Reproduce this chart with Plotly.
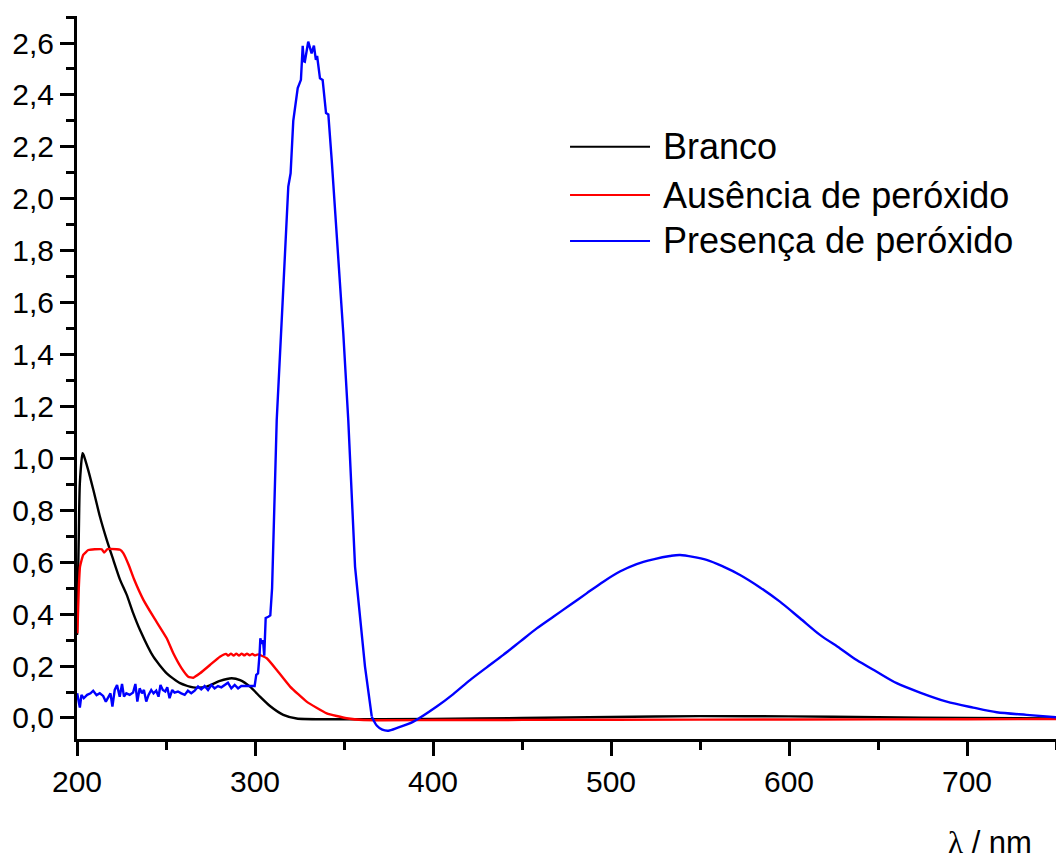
import plotly.graph_objects as go

# UV-Vis spectra: wavelength (nm) and absorbance
wl_branco = [200.0, 201.0, 201.6, 203.1, 203.6, 206.3, 209.2, 212.9, 216.7, 220.4,
             224.2, 227.9, 231.5, 235.4, 242.9, 250.4, 257.9, 265.3, 272.8, 280.3,
             286.9, 291.6, 297.2, 302.8, 308.4, 315.9, 323.4, 340.0, 400.0, 450.0,
             500.0, 550.0, 600.0, 650.0, 700.0, 750.0]
abs_branco = [0.32, 0.70, 0.904, 1.02, 1.015, 0.955, 0.878, 0.775, 0.686, 0.609,
              0.532, 0.475, 0.405, 0.339, 0.236, 0.172, 0.134, 0.118, 0.121, 0.143,
              0.153, 0.146, 0.121, 0.082, 0.046, 0.012, -0.002, -0.005, -0.004, 0.000,
              0.004, 0.007, 0.006, 0.003, 0.000, -0.002]

wl_ausencia = [200.2, 201.0, 201.7, 203.5, 206.4, 210.0, 213.9, 215.2, 217.1, 222.3,
               224.2, 226.0, 229.0, 232.0, 237.3, 242.9, 250.4, 254.1, 258.8, 262.5,
               265.3, 269.1, 274.7, 280.3, 283.7, 285.0, 286.5, 288.0, 289.5, 291.0,
               292.5, 294.0, 295.5, 297.0, 298.5, 300.0, 301.8, 306.6, 312.2, 319.7,
               329.0, 340.3, 351.5, 360.9, 400.0, 500.0, 600.0, 700.0, 750.0]
abs_ausencia = [0.326, 0.50, 0.583, 0.628, 0.647, 0.650, 0.650, 0.637, 0.650, 0.650,
                0.648, 0.635, 0.59, 0.535, 0.455, 0.39, 0.307, 0.249, 0.191, 0.159,
                0.155, 0.172, 0.204, 0.236, 0.247, 0.240, 0.248, 0.240, 0.248, 0.240,
                0.248, 0.241, 0.248, 0.241, 0.247, 0.241, 0.245, 0.23, 0.185, 0.121,
                0.063, 0.018, -0.001, -0.008, -0.008, -0.007, -0.006, -0.005, -0.004]

wl_presenca = [200.1, 201.6, 202.5, 203.8, 205.7, 207.6, 209.1, 211.0, 212.8, 214.7,
               216.2, 217.5, 218.8, 219.9, 221.2, 222.5, 224.0, 225.3, 226.4, 227.7,
               229.6, 231.5, 232.8, 233.9, 235.2, 236.5, 237.6, 238.9, 240.2, 241.7,
               243.0, 244.5, 245.8, 246.9, 248.2, 249.6, 250.7, 252.0, 253.5, 254.8,
               256.7, 258.6, 260.5, 262.3, 264.2, 266.1, 268.0, 269.8, 271.7, 273.6,
               275.5, 277.3, 279.2, 281.1, 283.0, 284.8, 286.7, 288.6, 290.5, 292.3,
               295.1, 297.9, 299.8, 300.7, 301.7, 302.6, 303.0, 303.8, 304.5, 305.2,
               306.0, 307.5, 308.6, 309.6, 312.2, 315.5, 318.7, 320.0, 321.5, 324.0,
               325.8, 326.8, 327.4, 328.0, 329.9, 331.8, 333.1, 334.2, 334.9, 336.5,
               338.0, 339.9, 341.2, 343.1, 345.9, 349.6, 352.4, 356.2, 361.8, 365.6,
               368.5, 371.5, 374.9, 380.0, 389.0, 402.1, 411.4, 420.8, 430.2, 439.5,
               448.9, 458.3, 467.6, 477.0, 486.3, 495.7, 505.0, 514.4, 523.8, 533.1,
               538.8, 553.7, 563.1, 572.5, 583.7, 594.9, 606.2, 617.4, 628.7, 638.0,
               649.3, 660.5, 673.6, 688.6, 703.5, 716.7, 733.5, 750.0]
abs_presenca = [0.095, 0.040, 0.089, 0.076, 0.089, 0.095, 0.105, 0.088, 0.095, 0.085,
                0.063, 0.082, 0.095, 0.044, 0.108, 0.127, 0.082, 0.131, 0.082, 0.095,
                0.089, 0.098, 0.131, 0.063, 0.114, 0.095, 0.108, 0.063, 0.089, 0.108,
                0.095, 0.105, 0.082, 0.127, 0.108, 0.102, 0.118, 0.076, 0.108, 0.098,
                0.102, 0.095, 0.089, 0.105, 0.095, 0.105, 0.121, 0.110, 0.123, 0.108,
                0.127, 0.114, 0.123, 0.118, 0.127, 0.136, 0.114, 0.127, 0.114, 0.123,
                0.123, 0.123, 0.123, 0.166, 0.172, 0.250, 0.307, 0.285, 0.300, 0.240,
                0.385, 0.390, 0.395, 0.50, 1.148, 1.60, 2.047, 2.098, 2.30, 2.426,
                2.458, 2.589, 2.53, 2.528, 2.605, 2.56, 2.59, 2.535, 2.55, 2.464,
                2.458, 2.33, 2.325, 2.149, 1.867, 1.482, 1.148, 0.583, 0.198, 0.005,
                -0.030, -0.045, -0.049, -0.038, -0.014, 0.044, 0.092, 0.146, 0.195, 0.243,
                0.294, 0.345, 0.39, 0.435, 0.48, 0.525, 0.564, 0.593, 0.611, 0.624,
                0.628, 0.609, 0.583, 0.551, 0.503, 0.448, 0.384, 0.320, 0.268, 0.223,
                0.178, 0.134, 0.098, 0.063, 0.040, 0.022, 0.012, 0.003]

series_names = ["Branco", "Ausência de peróxido", "Presença de peróxido"]
series_colors = ["#000000", "#FF0000", "#0000FF"]

FONT = "Liberation Sans, Arial, sans-serif"
LINE_W = 2.4

fig = go.Figure()
fig.add_trace(go.Scatter(x=wl_branco, y=abs_branco, mode="lines", name=series_names[0],
                         line=dict(color=series_colors[0], width=LINE_W, shape="spline",
                                   smoothing=0.6), showlegend=False))
fig.add_trace(go.Scatter(x=wl_ausencia, y=abs_ausencia, mode="lines", name=series_names[1],
                         line=dict(color=series_colors[1], width=LINE_W, shape="spline",
                                   smoothing=0.4), showlegend=False))

# the noisy UV region is drawn point-to-point, the broad visible band smoothed
split = wl_presenca.index(365.6)
fig.add_trace(go.Scatter(x=wl_presenca[:split + 1], y=abs_presenca[:split + 1], mode="lines",
                         name=series_names[2], line=dict(color=series_colors[2], width=LINE_W),
                         showlegend=False))
fig.add_trace(go.Scatter(x=wl_presenca[split:], y=abs_presenca[split:], mode="lines",
                         name=series_names[2], line=dict(color=series_colors[2], width=LINE_W,
                                                         shape="spline", smoothing=0.8),
                         showlegend=False))

# hand-built legend: long line samples followed by labels
legend_y = [0.819, 0.7524, 0.6888]
shapes = []
annotations = []
for name, col, yy in zip(series_names, series_colors, legend_y):
    shapes.append(dict(type="line", xref="paper", yref="paper",
                       x0=0.5036, x1=0.5853, y0=yy, y1=yy,
                       line=dict(color=col, width=2)))
    annotations.append(dict(xref="paper", yref="paper", x=0.5965, y=yy,
                            text=name, showarrow=False, xanchor="left",
                            yanchor="middle", font=dict(family=FONT, size=36, color="black")))

annotations.append(dict(xref="paper", yref="paper", x=0.9326, y=-0.1438,
                        text="<span style='font-family:Liberation Serif'>λ</span> / nm",
                        showarrow=False, xanchor="center", yanchor="middle",
                        font=dict(family=FONT, size=31, color="black")))

axis_common = dict(showgrid=False, zeroline=False, showline=True, linecolor="black",
                   linewidth=3, ticks="outside", ticklen=14, tickwidth=3,
                   tickcolor="black", tickfont=dict(family=FONT, size=30, color="black"),
                   mirror=False)

fig.update_layout(
    width=1056, height=863,
    margin=dict(l=77, r=0, t=16, b=124),
    paper_bgcolor="white", plot_bgcolor="white",
    separators=",.",
    shapes=shapes, annotations=annotations,
    xaxis=dict(range=[200, 750], dtick=100, tick0=200, tickformat="d",
               minor=dict(dtick=50, ticklen=8, tickwidth=3, tickcolor="black", ticks="outside"),
               **axis_common),
    yaxis=dict(range=[-0.081, 2.704], dtick=0.2, tick0=0, tickformat=".1f",
               minor=dict(dtick=0.1, ticklen=8, tickwidth=3, tickcolor="black", ticks="outside"),
               **axis_common),
)

fig.write_html("out.html")
